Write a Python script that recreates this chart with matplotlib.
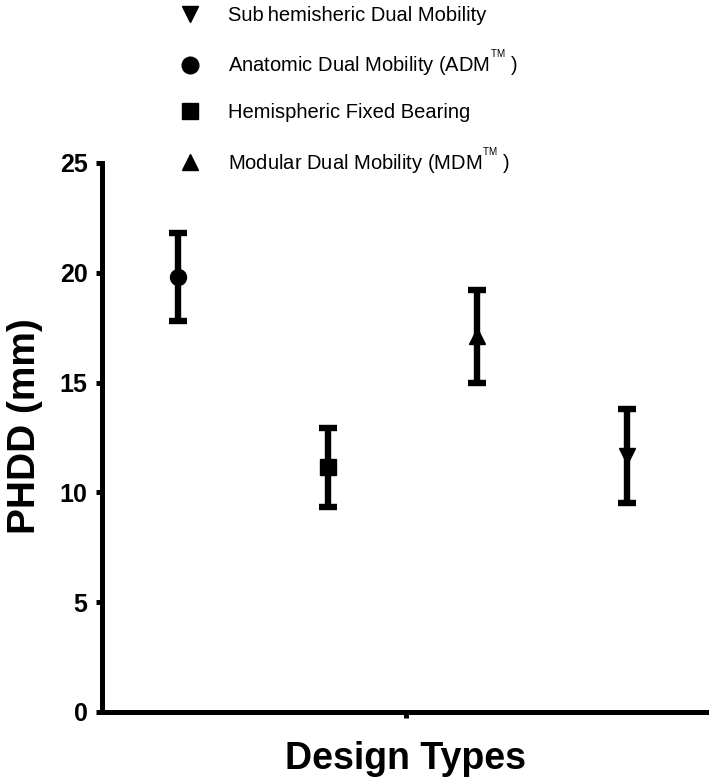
import matplotlib
matplotlib.use("Agg")
import matplotlib.pyplot as plt
from matplotlib.lines import Line2D
from matplotlib.ticker import MultipleLocator

plt.rcParams['font.family'] = ['Liberation Sans', 'DejaVu Sans']
plt.rcParams['mathtext.fontset'] = 'custom'
plt.rcParams['mathtext.rm'] = 'Liberation Sans'

# design types in plotting order (left to right)
designs = [r'Anatomic Dual Mobility (ADM$^{{}^{\mathrm{TM}}}$ )',
           'Hemispheric Fixed Bearing',
           r'Modular Dual Mobility (MDM$^{{}^{\mathrm{TM}}}$ )',
           'Sub\u2009hemisheric Dual Mobility']
markers = ['o', 's', '^', 'v']
positions = [1, 2, 3, 4]
phdd_mean = [19.8, 11.15, 17.1, 11.65]
phdd_err = [2.0, 1.8, 2.1, 2.15]

# legend order as in the figure
legend_order = [3, 0, 1, 2]

fig = plt.figure(figsize=(7.09, 7.81), dpi=100)
ax = fig.add_axes([0.1439, 0.0884, 0.8561, 0.7029])

for i in range(len(designs)):
    ax.errorbar(positions[i], phdd_mean[i], yerr=phdd_err[i], fmt=markers[i],
                color='black', ms=12 if markers[i] != 'o' else 11.5,
                elinewidth=4.6, capsize=6.5, capthick=4.6)

ax.set_ylim(0, 25)
ax.set_xlim(0.49, 4.55)
ax.yaxis.set_major_locator(MultipleLocator(5))
ax.yaxis.set_minor_locator(MultipleLocator(2.5))
ax.set_xticks([2.52])
ax.set_xticklabels([''])

for s in ['top', 'right']:
    ax.spines[s].set_visible(False)
for s in ['left', 'bottom']:
    ax.spines[s].set_linewidth(3.6)

ax.tick_params(axis='y', which='major', length=4.5, width=3.6, pad=6,
               labelsize=18)
ax.tick_params(axis='y', which='minor', length=1.5, width=3.0)
ax.tick_params(axis='x', which='major', length=4.5, width=3.6)
for lbl in ax.get_yticklabels():
    lbl.set_fontweight('bold')

ax.set_ylabel('PHDD (mm)', fontsize=28, fontweight='bold')
ax.yaxis.set_label_coords(-0.098, 0.52)
ax.set_xlabel('Design Types', fontsize=27, fontweight='bold', labelpad=13)

handles = [Line2D([], [], linestyle='none', marker=markers[i], color='black',
                  ms=12) for i in legend_order]
labels = [designs[i] for i in legend_order]
fig.legend(handles, labels, loc='upper left', bbox_to_anchor=(0.24, 1.003),
           frameon=False, fontsize=14.5, labelspacing=1.2, handlelength=1.2,
           handletextpad=1.25, borderaxespad=0)

fig.savefig('out.png', dpi=100)
